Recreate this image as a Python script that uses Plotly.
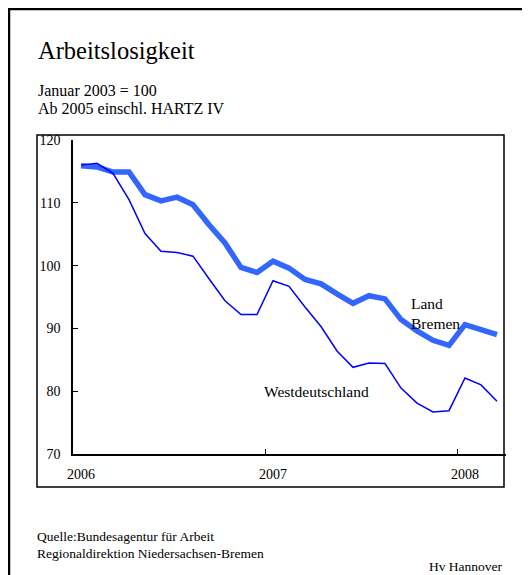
import plotly.graph_objects as go

# ---------------- data ----------------
months = ["Jan 2006", "Feb 2006", "Mär 2006", "Apr 2006", "Mai 2006", "Jun 2006",
          "Jul 2006", "Aug 2006", "Sep 2006", "Okt 2006", "Nov 2006", "Dez 2006",
          "Jan 2007", "Feb 2007", "Mär 2007", "Apr 2007", "Mai 2007", "Jun 2007",
          "Jul 2007", "Aug 2007", "Sep 2007", "Okt 2007", "Nov 2007", "Dez 2007",
          "Jan 2008", "Feb 2008", "Mär 2008"]
land_bremen = [115.9, 115.7, 114.9, 114.9, 111.3, 110.3, 110.9, 109.7, 106.5,
               103.6, 99.7, 98.9, 100.7, 99.6, 97.8, 97.1, 95.5, 94.0, 95.2,
               94.7, 91.4, 89.6, 88.1, 87.3, 90.6, 89.8, 89.0]
westdeutschland = [116.0, 116.3, 114.7, 110.5, 105.1, 102.3, 102.1, 101.5, 97.9,
                   94.4, 92.2, 92.2, 97.6, 96.7, 93.4, 90.3, 86.4, 83.8, 84.5,
                   84.4, 80.5, 78.1, 76.7, 76.9, 82.1, 81.0, 78.4]
year_labels = ["2006", "2007", "2008"]
y_ticks = [70, 80, 90, 100, 110, 120]

# ---------------- layout geometry ----------------
OFF = 8                                  # page body margin
W, H = 530 - OFF, 575 - OFF
L, R, T, B = 73, 506, 140, 454           # plot area in window pixels
FONT = "Liberation Serif, Times New Roman, serif"

def px(xp):
    return (xp - L) / (R - L)

def py(yp):
    return (B - yp) / (B - T)

idx = list(range(len(months)))
year_idx = [months.index("Jan " + y) for y in year_labels]

fig = go.Figure()
fig.add_trace(go.Scatter(x=idx, y=land_bremen, mode="lines", name="Land Bremen",
                         text=months, line=dict(color="#3366FF", width=5.5),
                         hovertemplate="%{text}: %{y}<extra>Land Bremen</extra>"))
fig.add_trace(go.Scatter(x=idx, y=westdeutschland, mode="lines", name="Westdeutschland",
                         text=months, line=dict(color="#0000FF", width=1.5),
                         hovertemplate="%{text}: %{y}<extra>Westdeutschland</extra>"))

x_end = -0.5 + (R - L) / 16.0
fig.update_xaxes(range=[-0.5, x_end], showgrid=False, zeroline=False,
                 showline=True, linecolor="black", linewidth=1.5,
                 tickvals=[i - 0.5 for i in year_idx], ticktext=["", "", ""],
                 ticks="inside", ticklen=5, tickcolor="black", tickwidth=1.2)
fig.update_yaxes(range=[70, 120], showgrid=False, zeroline=False,
                 showline=True, linecolor="black", linewidth=1.5,
                 tickvals=y_ticks, ticks="inside", ticklen=5, tickcolor="black",
                 tickwidth=1.2, ticklabelstandoff=8,
                 tickfont=dict(family=FONT, size=14, color="black"))

anns = []
for i, lab in zip(year_idx, year_labels):
    anns.append(dict(x=i, y=py(474), xref="x", yref="paper", text=lab,
                     showarrow=False, xanchor="center", yanchor="middle",
                     font=dict(family=FONT, size=14, color="black")))

def txt(x, y, s, size, anchor="left"):
    anns.append(dict(x=px(x), y=py(y), xref="paper", yref="paper", text=s,
                     showarrow=False, xanchor=anchor, yanchor="middle",
                     font=dict(family=FONT, size=size, color="black")))

txt(36, 51, "Arbeitslosigkeit", 24.5)
txt(36, 90, "Januar 2003 = 100", 16)
txt(36, 108, "Ab 2005 einschl. HARTZ IV", 16)
txt(409, 303, "Land", 15.5)
txt(409, 323, "Bremen", 15.5)
txt(262, 391, "Westdeutschland", 15.5)
txt(35, 536, "Quelle:Bundesagentur für Arbeit", 13.5)
txt(35, 553, "Regionaldirektion Niedersachsen-Bremen", 13.5)
txt(505, 566, "Hv Hannover", 13.5, anchor="right")
fig.update_layout(annotations=anns)

shapes = [
    # outer frame (left and top)
    dict(type="line", xref="paper", yref="paper", x0=px(9), x1=px(9), y0=py(9), y1=py(590),
         line=dict(color="black", width=2.5)),
    dict(type="line", xref="paper", yref="paper", x0=px(8), x1=px(545), y0=py(9), y1=py(9),
         line=dict(color="black", width=2.5)),
    # inner chart box
    dict(type="rect", xref="paper", yref="paper", x0=px(37), x1=px(504), y0=py(135), y1=py(487),
         line=dict(color="black", width=1.5), layer="below"),
]
fig.update_layout(shapes=shapes)

fig.update_layout(width=W, height=H,
                  margin=dict(l=L - OFF, r=530 - R, t=T - OFF, b=575 - B),
                  paper_bgcolor="white", plot_bgcolor="white", showlegend=False,
                  font=dict(family=FONT, color="black"))

fig.write_html("out.html")
